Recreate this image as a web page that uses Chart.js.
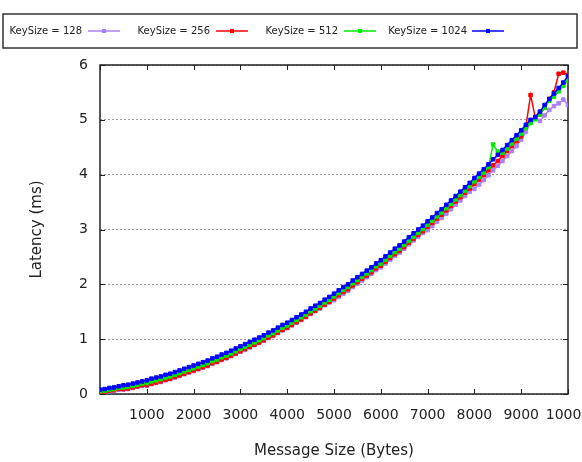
<!DOCTYPE html>
<html>
<head>
<meta charset="utf-8">
<script src="https://cdn.jsdelivr.net/npm/chart.js@4"></script>
<style>
  body { margin: 0; background: #fff; }
</style>
</head>
<body>
<canvas id="latencyChart" width="582" height="462"></canvas>
<script>
// message sizes in bytes
const msgSize = [0,100,200,300,400,500,600,700,800,900,
	1000,1100,1200,1300,1400,1500,1600,1700,1800,1900,
	2000,2100,2200,2300,2400,2500,2600,2700,2800,2900,
	3000,3100,3200,3300,3400,3500,3600,3700,3800,3900,
	4000,4100,4200,4300,4400,4500,4600,4700,4800,4900,
	5000,5100,5200,5300,5400,5500,5600,5700,5800,5900,
	6000,6100,6200,6300,6400,6500,6600,6700,6800,6900,
	7000,7100,7200,7300,7400,7500,7600,7700,7800,7900,
	8000,8100,8200,8300,8400,8500,8600,8700,8800,8900,
	9000,9100,9200,9300,9400,9500,9600,9700,9800,9900,
	10000];

// latency (ms) per key size
const key128 = [0.02,0.03,0.05,0.06,0.08,0.08,0.09,0.11,0.13,0.15,
	0.15,0.18,0.20,0.22,0.25,0.27,0.30,0.33,0.36,0.39,
	0.42,0.45,0.48,0.51,0.55,0.58,0.62,0.65,0.69,0.73,
	0.77,0.81,0.85,0.89,0.93,0.97,1.02,1.06,1.11,1.16,
	1.20,1.25,1.30,1.35,1.40,1.46,1.51,1.56,1.62,1.67,
	1.71,1.77,1.83,1.88,1.95,2.01,2.07,2.13,2.19,2.26,
	2.31,2.38,2.45,2.52,2.58,2.65,2.73,2.80,2.87,2.94,
	2.99,3.06,3.14,3.21,3.29,3.37,3.45,3.53,3.61,3.69,
	3.74,3.82,3.90,3.99,4.08,4.16,4.25,4.34,4.43,4.52,
	4.64,4.78,4.95,5.04,4.98,5.08,5.18,5.25,5.30,5.37,
	5.27];
const key256 = [0.03,0.04,0.06,0.07,0.09,0.09,0.10,0.12,0.14,0.16,
	0.16,0.19,0.21,0.23,0.26,0.28,0.31,0.34,0.37,0.40,
	0.43,0.46,0.49,0.52,0.56,0.59,0.63,0.66,0.70,0.74,
	0.78,0.82,0.86,0.90,0.94,0.98,1.03,1.07,1.12,1.17,
	1.21,1.26,1.31,1.36,1.41,1.47,1.52,1.57,1.63,1.68,
	1.74,1.80,1.86,1.91,1.98,2.04,2.10,2.16,2.22,2.29,
	2.34,2.41,2.48,2.55,2.61,2.68,2.76,2.83,2.90,2.97,
	3.05,3.12,3.20,3.27,3.35,3.43,3.51,3.59,3.67,3.75,
	3.83,3.91,3.99,4.08,4.17,4.25,4.34,4.43,4.52,4.61,
	4.70,4.88,5.45,5.05,5.10,5.22,5.38,5.50,5.84,5.86,
	5.82];
const key512 = [0.05,0.06,0.08,0.09,0.11,0.12,0.13,0.15,0.17,0.19,
	0.20,0.23,0.25,0.27,0.30,0.32,0.35,0.38,0.41,0.44,
	0.47,0.50,0.53,0.56,0.60,0.63,0.67,0.70,0.74,0.78,
	0.82,0.86,0.90,0.94,0.98,1.02,1.07,1.11,1.16,1.21,
	1.25,1.30,1.35,1.40,1.45,1.51,1.56,1.61,1.67,1.72,
	1.78,1.84,1.90,1.95,2.02,2.08,2.14,2.20,2.26,2.33,
	2.38,2.45,2.52,2.59,2.65,2.72,2.80,2.87,2.94,3.01,
	3.09,3.16,3.24,3.31,3.39,3.47,3.55,3.63,3.71,3.79,
	3.88,3.96,4.04,4.14,4.55,4.42,4.40,4.48,4.57,4.66,
	4.75,4.85,4.94,5.01,5.10,5.22,5.35,5.42,5.52,5.62,
	5.72];
const key1024 = [0.08,0.09,0.11,0.12,0.14,0.16,0.17,0.19,0.21,0.23,
	0.25,0.28,0.30,0.32,0.35,0.37,0.40,0.43,0.46,0.49,
	0.52,0.55,0.58,0.61,0.65,0.68,0.72,0.75,0.79,0.83,
	0.87,0.91,0.95,0.99,1.03,1.07,1.12,1.16,1.21,1.26,
	1.30,1.35,1.40,1.45,1.50,1.56,1.61,1.66,1.72,1.77,
	1.83,1.89,1.95,2.00,2.07,2.13,2.19,2.25,2.31,2.38,
	2.44,2.51,2.58,2.65,2.71,2.78,2.86,2.93,3.00,3.07,
	3.15,3.22,3.30,3.37,3.45,3.53,3.61,3.69,3.77,3.85,
	3.94,4.02,4.10,4.19,4.28,4.36,4.45,4.54,4.63,4.72,
	4.81,4.91,5.00,5.05,5.15,5.27,5.38,5.48,5.58,5.68,
	5.80];

const seriesNames = ['KeySize = 128', 'KeySize = 256', 'KeySize = 512', 'KeySize = 1024'];
const seriesValues = [key128, key256, key512, key1024];
const seriesColors = ['rgb(172,128,245)', 'rgb(255,0,0)', 'rgb(0,235,0)', 'rgb(0,0,255)'];

const FONT = 'DejaVu Sans';

function toPoints(values) {
	var pts = new Array();
	for (let i = 0; i < values.length; i++) {
		pts.push({ x: msgSize[i], y: values[i] });
	}
	return pts;
}

const datasets = [];
for (let i = 0; i < seriesNames.length; i++) {
	datasets.push({
		label: seriesNames[i],
		data: toPoints(seriesValues[i]),
		borderColor: seriesColors[i],
		backgroundColor: seriesColors[i],
		borderWidth: 1.5,
		pointStyle: 'rect',
		pointRadius: 2.5,
		pointBorderWidth: 1,
		order: seriesNames.length - 1 - i,
		tension: 0
	});
}

// gnuplot style frame with inward ticks on all four sides
const framePlugin = {
	id: 'frame',
	beforeDatasetsDraw(chart) {
		const ctx = chart.ctx;
		const a = chart.chartArea;
		const x = chart.scales.x, y = chart.scales.y;
		ctx.save();
		ctx.strokeStyle = '#222';
		ctx.lineWidth = 1;
		ctx.beginPath();
		x.ticks.forEach(t => {
			const px = Math.round(x.getPixelForValue(t.value)) + 0.5;
			ctx.moveTo(px, a.bottom); ctx.lineTo(px, a.bottom - 5);
			ctx.moveTo(px, a.top); ctx.lineTo(px, a.top + 5);
		});
		y.ticks.forEach(t => {
			const py = Math.round(y.getPixelForValue(t.value)) + 0.5;
			ctx.moveTo(a.left, py); ctx.lineTo(a.left + 5, py);
			ctx.moveTo(a.right, py); ctx.lineTo(a.right - 5, py);
		});
		ctx.stroke();
		ctx.lineWidth = 1.5;
		ctx.strokeRect(a.left, a.top, a.right - a.left, a.bottom - a.top);
		ctx.restore();
	}
};

// boxed key on top: text right justified, then sample line with marker
const keyPlugin = {
	id: 'key',
	afterDraw(chart) {
		const ctx = chart.ctx;
		ctx.save();
		ctx.strokeStyle = '#333';
		ctx.lineWidth = 1.5;
		ctx.strokeRect(3, 14, 574, 34);
		ctx.font = '10px "' + FONT + '"';
		ctx.textAlign = 'right';
		ctx.textBaseline = 'middle';
		chart.data.datasets.forEach((ds, i) => {
			const col = 128 * i;
			ctx.fillStyle = '#222';
			ctx.fillText(ds.label, 82 + col + (i == 3 ? 1 : 0), 31);
			ctx.strokeStyle = ds.borderColor;
			ctx.lineWidth = 1.5;
			ctx.beginPath();
			ctx.moveTo(88 + col, 31);
			ctx.lineTo(120 + col, 31);
			ctx.stroke();
			ctx.fillStyle = ds.borderColor;
			ctx.fillRect(102 + col, 29, 4, 4);
		});
		ctx.restore();
	}
};

const config = {
	type: 'line',
	data: { datasets: datasets },
	options: {
		responsive: false,
		animation: false,
		devicePixelRatio: 1,
		layout: { padding: { top: 65, right: 14, bottom: 0, left: 0 } },
		plugins: {
			legend: { display: false },
			tooltip: { enabled: false }
		},
		scales: {
			x: {
				type: 'linear',
				min: 0,
				max: 10000,
				grid: { display: false, drawTicks: false },
				border: { display: false },
				ticks: {
					stepSize: 1000,
					padding: 13,
					color: '#222',
					maxRotation: 0,
					autoSkip: false,
					font: { family: FONT, size: 14 },
					callback: v => (v === 0 ? '' : v)
				},
				title: {
					display: true,
					text: 'Message Size (Bytes)',
					color: '#222',
					font: { family: FONT, size: 15 },
					padding: { top: 0, bottom: 2 }
				},
				afterFit(scale) {
					scale.height = 68;
					scale.paddingLeft = 0;
					scale.paddingRight = 0;
				}
			},
			y: {
				min: 0,
				max: 6,
				grid: { color: '#999', lineWidth: 1, drawTicks: false },
				border: { display: false, dash: [2, 2] },
				ticks: {
					stepSize: 1,
					padding: 12,
					color: '#222',
					font: { family: FONT, size: 14 }
				},
				title: {
					display: true,
					text: 'Latency (ms)',
					color: '#222',
					font: { family: FONT, size: 15 },
					padding: { top: 28, bottom: 0 }
				},
				afterFit(scale) {
					scale.width = 100;
					scale.paddingTop = 0;
					scale.paddingBottom = 0;
				}
			}
		}
	},
	plugins: [framePlugin, keyPlugin]
};

const latencyChart = new Chart(
	document.getElementById('latencyChart').getContext('2d'),
	config
);
</script>
</body>
</html>
